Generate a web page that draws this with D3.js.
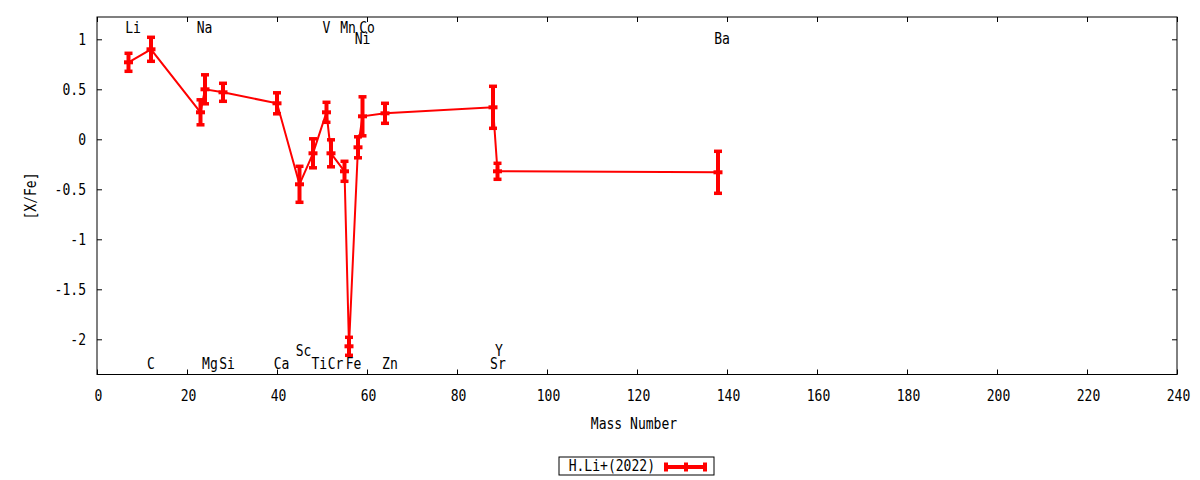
<!DOCTYPE html>
<html>
<head>
<meta charset="utf-8">
<script src="https://cdn.jsdelivr.net/npm/d3@7"></script>
<style>
  body { margin: 0; background: #fff; }
  text { font-family: "DejaVu Sans Mono", monospace; font-size: 15px; fill: #000; }
</style>
</head>
<body>
<svg id="chart"></svg>
<script>
// abundance data, one entry per element
const elements = ["Li", "C", "Na", "Mg", "Si", "Ca", "Sc", "Ti", "V", "Cr", "Mn", "Fe", "Ni", "Co", "Zn", "Sr", "Y", "Ba"];
const massNumber = [7, 12, 23, 24, 28, 40, 45, 48, 51, 52, 55, 56, 58, 59, 64, 88, 89, 138];
const xFe = [0.77, 0.90, 0.27, 0.50, 0.47, 0.36, -0.45, -0.14, 0.27, -0.14, -0.32, -2.07, -0.08, 0.23, 0.26, 0.32, -0.32, -0.33];
const xFeErr = [0.09, 0.12, 0.125, 0.145, 0.09, 0.105, 0.18, 0.145, 0.10, 0.135, 0.10, 0.09, 0.105, 0.195, 0.10, 0.21, 0.08, 0.21];

// element labels placed in the plot (data coords)
const labelText = ["Li", "Na", "V", "Mn", "Co", "Ni", "Ba", "Sc", "Y", "C", "Mg", "Si", "Ca", "Ti", "Cr", "Fe", "Zn", "Sr"];
const labelX = [8.0, 23.9, 51.0, 55.8, 60.0, 59.0, 138.9, 45.9, 89.3, 12.0, 25.1, 28.9, 41.0, 49.4, 53.0, 57.0, 65.1, 89.1];
const labelY = [1.115, 1.115, 1.115, 1.115, 1.115, 1.01, 1.01, -2.11, -2.11, -2.245, -2.245, -2.245, -2.245, -2.245, -2.245, -2.245, -2.245, -2.245];

const xTicks = [0, 20, 40, 60, 80, 100, 120, 140, 160, 180, 200, 220, 240];
const yTicks = [1, 0.5, 0, -0.5, -1, -1.5, -2];
const seriesName = "H.Li+(2022)";

const width = 1200, height = 480;
const margin = { top: 17, right: 23, bottom: 105.5, left: 97 };
const red = "#ff0000";
const squeeze = "scale(0.87,1)";

const svg = d3.select("#chart")
  .attr("width", width)
  .attr("height", height);

const x = d3.scaleLinear()
  .domain([0, 240])
  .range([margin.left, width - margin.right]);

const y = d3.scaleLinear()
  .domain([-2.352, 1.223])
  .range([height - margin.bottom, margin.top]);

const data = elements.map((e, i) => ({ el: e, m: massNumber[i], v: xFe[i], err: xFeErr[i] }));

// axes, ticks pointing inward on all four sides
const bottomAxis = svg.append("g")
  .attr("transform", `translate(0,${y.range()[0]})`)
  .call(d3.axisBottom(x).tickValues(xTicks).tickSize(-5).tickFormat(d3.format("d")));
bottomAxis.selectAll("text")
  .attr("y", 0).attr("dy", "0.36em")
  .attr("transform", `translate(1,21.5) ${squeeze}`);

const topAxis = svg.append("g")
  .attr("transform", `translate(0,${margin.top})`)
  .call(d3.axisTop(x).tickValues(xTicks).tickSize(-5).tickFormat(""));

const leftAxis = svg.append("g")
  .attr("transform", `translate(${margin.left},0)`)
  .call(d3.axisLeft(y).tickValues(yTicks).tickSize(-5).tickFormat(d => String(d)));
leftAxis.selectAll("text")
  .attr("x", 0).attr("dy", "0.36em")
  .attr("transform", `translate(-11,0) ${squeeze}`);

const rightAxis = svg.append("g")
  .attr("transform", `translate(${width - margin.right},0)`)
  .call(d3.axisRight(y).tickValues(yTicks).tickSize(-5).tickFormat(""));

svg.selectAll(".domain").remove();
svg.selectAll(".tick line").attr("stroke", "#000");
svg.selectAll(".tick text").style("font-family", "DejaVu Sans Mono").style("font-size", "15px").attr("fill", "#000");

// frame
svg.append("rect")
  .attr("x", margin.left)
  .attr("y", margin.top)
  .attr("width", x.range()[1] - x.range()[0])
  .attr("height", y.range()[0] - y.range()[1])
  .attr("fill", "none")
  .attr("stroke", "#000")
  .attr("stroke-width", 1);

// axis titles
svg.append("text")
  .attr("text-anchor", "middle")
  .attr("dy", "0.36em")
  .attr("transform", `translate(634,424) ${squeeze}`)
  .text("Mass Number");

svg.append("text")
  .attr("text-anchor", "middle")
  .attr("dy", "0.36em")
  .attr("transform", `translate(31,196) rotate(-90) ${squeeze}`)
  .text("[X/Fe]");

// the connecting line
const line = d3.line().x(d => x(d.m)).y(d => y(d.v));
svg.append("path")
  .datum(data)
  .attr("d", line)
  .attr("fill", "none")
  .attr("stroke", red)
  .attr("stroke-width", 2);

// error bars with caps and a "+" point
const bars = svg.append("g").selectAll("g")
  .data(data)
  .enter()
  .append("g");

bars.append("line")
  .attr("x1", d => x(d.m)).attr("x2", d => x(d.m))
  .attr("y1", d => y(d.v + d.err)).attr("y2", d => y(d.v - d.err))
  .attr("stroke", red).attr("stroke-width", 4);

bars.selectAll(".cap")
  .data(d => [d.v + d.err, d.v - d.err].map(v => ({ m: d.m, v: v })))
  .enter()
  .append("line")
  .attr("class", "cap")
  .attr("x1", d => x(d.m) - 4).attr("x2", d => x(d.m) + 4)
  .attr("y1", d => y(d.v)).attr("y2", d => y(d.v))
  .attr("stroke", red).attr("stroke-width", 3.5);

bars.append("line")
  .attr("x1", d => x(d.m) - 4.5).attr("x2", d => x(d.m) + 4.5)
  .attr("y1", d => y(d.v)).attr("y2", d => y(d.v))
  .attr("stroke", red).attr("stroke-width", 4);

// element labels
svg.append("g").selectAll("text")
  .data(labelText)
  .enter()
  .append("text")
  .attr("text-anchor", "middle")
  .attr("dy", "0.36em")
  .attr("transform", (d, i) => `translate(${x(labelX[i])},${y(labelY[i])}) ${squeeze}`)
  .text(d => d);

// legend
const legend = svg.append("g");
legend.append("rect")
  .attr("x", 559).attr("y", 457)
  .attr("width", 155).attr("height", 18)
  .attr("fill", "none").attr("stroke", "#000").attr("stroke-width", 1);
legend.append("text")
  .attr("text-anchor", "end")
  .attr("dy", "0.36em")
  .attr("transform", `translate(655,466) ${squeeze}`)
  .text(seriesName);
legend.append("line")
  .attr("x1", 664).attr("x2", 707).attr("y1", 467).attr("y2", 467)
  .attr("stroke", red).attr("stroke-width", 4);
[666, 686, 705].forEach(px => {
  legend.append("line")
    .attr("x1", px).attr("x2", px).attr("y1", 462.5).attr("y2", 471.5)
    .attr("stroke", red).attr("stroke-width", 4);
});
</script>
</body>
</html>
